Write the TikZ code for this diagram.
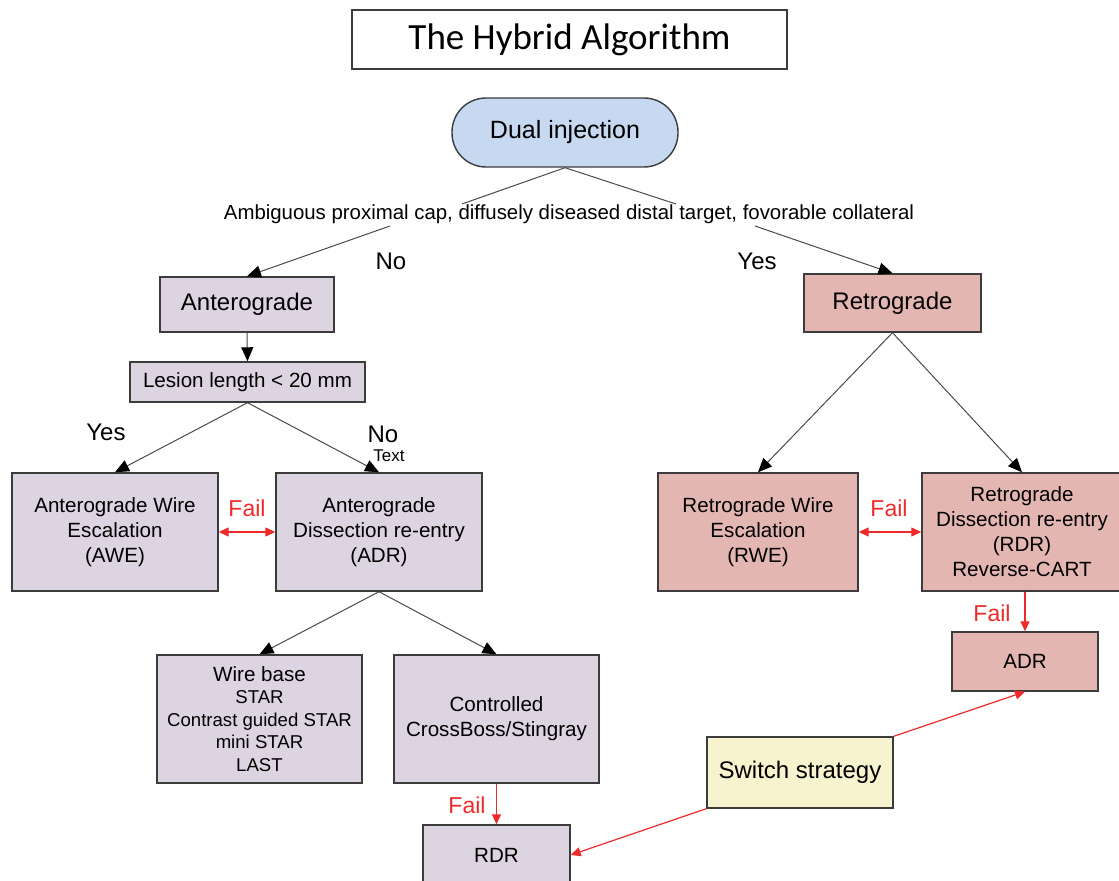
\documentclass[tikz,border=0pt]{standalone}
\usepackage{fontspec}
\setmainfont{Liberation Sans}
\newfontfamily\titlefont{Carlito}
\usetikzlibrary{arrows.meta}
\definecolor{boxline}{HTML}{3C3C3C}
\definecolor{linkgray}{HTML}{4A4A4A}
\definecolor{antefill}{HTML}{DDD4E2}
\definecolor{retrofill}{HTML}{E4B6B2}
\definecolor{dualfill}{HTML}{C6D9F0}
\definecolor{switchfill}{HTML}{F6F3CE}
\definecolor{failred}{HTML}{EE2A2A}
\begin{document}
\begin{tikzpicture}[x=0.5pt,y=-0.5pt,
  box/.style={draw=boxline, line width=0.7pt, inner sep=0pt, align=center, font=\fontsize{10.3}{12.5}\selectfont},
  ante/.style={box, fill=antefill},
  retro/.style={box, fill=retrofill},
  link/.style={draw=linkgray, line width=0.5pt, -{Triangle[length=7pt,width=6pt,color=black]}},
  faillink/.style={draw=failred, line width=0.6pt, -{Triangle[length=5pt,width=4.5pt]}},
  failboth/.style={draw=failred, line width=0.6pt, {Triangle[length=5pt,width=4.5pt]}-{Triangle[length=5pt,width=4.5pt]}},
  failtext/.style={text=failred, inner sep=0pt, font=\fontsize{11.5}{13}\selectfont},
  answer/.style={inner sep=0pt, font=\fontsize{12}{14}\selectfont}]
\useasboundingbox (0,0) rectangle (1119,881);

\node[box, fill=white, minimum width=217.5pt, minimum height=29.5pt, font=\titlefont\fontsize{18.5}{20}\selectfont] (title) at (569.5,39.5) {The Hybrid Algorithm};
\node[box, fill=dualfill, rounded corners=17pt, minimum width=113pt, minimum height=34.5pt, font=\fontsize{12.5}{14}\selectfont] (dual) at (565,132.5) {Dual injection};
\node[inner sep=0pt, font=\fontsize{10.2}{12}\selectfont] (cond) at (569,214) {Ambiguous proximal cap, diffusely diseased distal target, fovorable collateral};

\node[ante, minimum width=87pt, minimum height=27.5pt, font=\fontsize{12}{14}\selectfont] (ante) at (247,304.5) {Anterograde};
\node[ante, minimum width=117.5pt, minimum height=20pt] (lesion) at (247.5,382) {Lesion length < 20 mm};
\node[ante, minimum width=103pt, minimum height=59pt] (awe) at (115,532) {Anterograde Wire\\Escalation\\(AWE)};
\node[ante, minimum width=103pt, minimum height=59pt] (adr) at (379,532) {Anterograde\\Dissection re-entry\\(ADR)};
\node[ante, minimum width=102.5pt, minimum height=64pt, font=\fontsize{9.3}{11.3}\selectfont] (wire) at (259.5,719) {{\fontsize{10.3}{12}\selectfont Wire base}\\STAR\\Contrast guided STAR\\mini STAR\\LAST};
\node[ante, minimum width=102.5pt, minimum height=64pt] (ctrl) at (496.5,719) {Controlled\\CrossBoss/Stingray};
\node[ante, minimum width=73.5pt, minimum height=30pt] (rdr) at (496.5,855) {RDR};

\node[retro, minimum width=88.5pt, minimum height=29pt, font=\fontsize{12}{14}\selectfont] (retro) at (892.5,303) {Retrograde};
\node[retro, minimum width=100pt, minimum height=59pt] (rwe) at (758,532) {Retrograde Wire\\Escalation\\(RWE)};
\node[retro, minimum width=100pt, minimum height=59pt] (rdrr) at (1022,532) {Retrograde\\Dissection re-entry\\(RDR)\\Reverse-CART};
\node[retro, minimum width=73pt, minimum height=29.5pt] (adrr) at (1025,661.5) {ADR};
\node[box, fill=switchfill, minimum width=93pt, minimum height=35.5pt, font=\fontsize{12}{14}\selectfont] (switch) at (800,772.5) {Switch strategy};

\node[answer] (no1) at (391,261) {No};
\node[answer] (yes1) at (757,261) {Yes};
\node[answer] (yes2) at (106,432) {Yes};
\node[answer] (no2) at (383,434) {No};
\node[inner sep=0pt, font=\fontsize{8.5}{10}\selectfont] (txt) at (389,456) {Text};
\node[failtext] (fail1) at (247,508) {Fail};
\node[failtext] (fail2) at (889,508) {Fail};
\node[failtext] (fail3) at (467,805) {Fail};
\node[failtext] (fail4) at (992,613) {Fail};

\coordinate (c1) at (462,204);
\coordinate (c2) at (676,204);
\coordinate (c3) at (390,226);
\coordinate (c4) at (755,226);

\path[draw=linkgray, line width=0.5pt] (dual.south) -- (c1);
\path[draw=linkgray, line width=0.5pt] (dual.south) -- (c2);
\path[link] (c3) -- (ante.north);
\path[link] (c4) -- (retro.north);
\path[link] (ante.south) -- (lesion.north);
\path[link] (lesion.south) -- (awe.north);
\path[link] (lesion.south) -- (adr.north);
\path[link] (adr.south) -- (wire.north);
\path[link] (adr.south) -- (ctrl.north);
\path[link] (retro.south) -- (rwe.north);
\path[link] (retro.south) -- (rdrr.north);

\path[failboth] (awe.east) -- (adr.west);
\path[failboth] (rwe.east) -- (rdrr.west);
\path[faillink] (ctrl.south) -- (rdr.north);
\path[faillink] (adrr.north |- rdrr.south) -- (adrr.north);
\path[faillink] (switch.north east) -- (adrr.south);
\path[faillink] (switch.south west) -- (rdr.east);
\end{tikzpicture}
\end{document}
